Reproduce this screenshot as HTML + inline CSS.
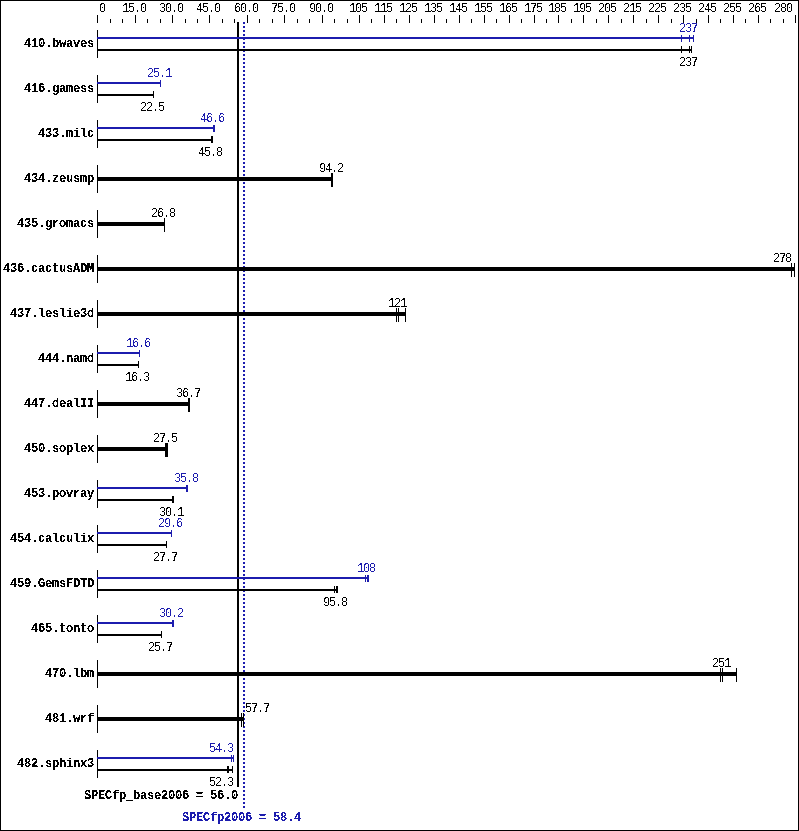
<!DOCTYPE html>
<html><head><meta charset="utf-8"><title>SPECfp2006</title><style>
html,body{margin:0;padding:0;background:#fff}
body{width:799px;height:831px;position:relative;overflow:hidden}
.r{position:absolute}
.t{position:absolute;font-family:"Liberation Mono",monospace;font-size:12px;line-height:20px;letter-spacing:-1.2px;white-space:pre;color:#000}
.B{position:absolute;font-family:"Liberation Mono",monospace;font-weight:bold;font-size:12px;line-height:20px;letter-spacing:-0.2px;white-space:pre;color:#000}
.b{color:#1c1cae}
.t{filter:url(#crisp)}
.B{filter:url(#crispb)}
</style></head>
<body>
<svg width="0" height="0" style="position:absolute"><filter id="crisp" x="-20%" y="-20%" width="140%" height="140%"><feComponentTransfer><feFuncA type="discrete" tableValues="0 1"/></feComponentTransfer></filter><filter id="crispb" x="-20%" y="-20%" width="140%" height="140%"><feComponentTransfer><feFuncA type="discrete" tableValues="0 0 1 1 1"/></feComponentTransfer></filter></svg>
<div style="position:absolute;left:0;top:0;width:799px;height:831px;box-sizing:border-box;border:1px solid #000"></div>
<div class="r" style="left:97px;top:15px;width:1px;height:8px;background:#000"></div>
<div class="r" style="left:110px;top:19px;width:1px;height:4px;background:#000"></div>
<div class="r" style="left:122px;top:19px;width:1px;height:4px;background:#000"></div>
<div class="r" style="left:135px;top:15px;width:1px;height:8px;background:#000"></div>
<div class="r" style="left:147px;top:19px;width:1px;height:4px;background:#000"></div>
<div class="r" style="left:160px;top:19px;width:1px;height:4px;background:#000"></div>
<div class="r" style="left:172px;top:15px;width:1px;height:8px;background:#000"></div>
<div class="r" style="left:185px;top:19px;width:1px;height:4px;background:#000"></div>
<div class="r" style="left:197px;top:19px;width:1px;height:4px;background:#000"></div>
<div class="r" style="left:209px;top:15px;width:1px;height:8px;background:#000"></div>
<div class="r" style="left:222px;top:19px;width:1px;height:4px;background:#000"></div>
<div class="r" style="left:234px;top:19px;width:1px;height:4px;background:#000"></div>
<div class="r" style="left:247px;top:15px;width:1px;height:8px;background:#000"></div>
<div class="r" style="left:259px;top:19px;width:1px;height:4px;background:#000"></div>
<div class="r" style="left:272px;top:19px;width:1px;height:4px;background:#000"></div>
<div class="r" style="left:284px;top:15px;width:1px;height:8px;background:#000"></div>
<div class="r" style="left:297px;top:19px;width:1px;height:4px;background:#000"></div>
<div class="r" style="left:309px;top:19px;width:1px;height:4px;background:#000"></div>
<div class="r" style="left:322px;top:15px;width:1px;height:8px;background:#000"></div>
<div class="r" style="left:334px;top:19px;width:1px;height:4px;background:#000"></div>
<div class="r" style="left:347px;top:19px;width:1px;height:4px;background:#000"></div>
<div class="r" style="left:359px;top:15px;width:1px;height:8px;background:#000"></div>
<div class="r" style="left:371px;top:19px;width:1px;height:4px;background:#000"></div>
<div class="r" style="left:384px;top:15px;width:1px;height:8px;background:#000"></div>
<div class="r" style="left:396px;top:19px;width:1px;height:4px;background:#000"></div>
<div class="r" style="left:409px;top:15px;width:1px;height:8px;background:#000"></div>
<div class="r" style="left:421px;top:19px;width:1px;height:4px;background:#000"></div>
<div class="r" style="left:434px;top:15px;width:1px;height:8px;background:#000"></div>
<div class="r" style="left:446px;top:19px;width:1px;height:4px;background:#000"></div>
<div class="r" style="left:459px;top:15px;width:1px;height:8px;background:#000"></div>
<div class="r" style="left:471px;top:19px;width:1px;height:4px;background:#000"></div>
<div class="r" style="left:484px;top:15px;width:1px;height:8px;background:#000"></div>
<div class="r" style="left:496px;top:19px;width:1px;height:4px;background:#000"></div>
<div class="r" style="left:509px;top:15px;width:1px;height:8px;background:#000"></div>
<div class="r" style="left:521px;top:19px;width:1px;height:4px;background:#000"></div>
<div class="r" style="left:534px;top:15px;width:1px;height:8px;background:#000"></div>
<div class="r" style="left:546px;top:19px;width:1px;height:4px;background:#000"></div>
<div class="r" style="left:558px;top:15px;width:1px;height:8px;background:#000"></div>
<div class="r" style="left:571px;top:19px;width:1px;height:4px;background:#000"></div>
<div class="r" style="left:583px;top:15px;width:1px;height:8px;background:#000"></div>
<div class="r" style="left:596px;top:19px;width:1px;height:4px;background:#000"></div>
<div class="r" style="left:608px;top:15px;width:1px;height:8px;background:#000"></div>
<div class="r" style="left:621px;top:19px;width:1px;height:4px;background:#000"></div>
<div class="r" style="left:633px;top:15px;width:1px;height:8px;background:#000"></div>
<div class="r" style="left:646px;top:19px;width:1px;height:4px;background:#000"></div>
<div class="r" style="left:658px;top:15px;width:1px;height:8px;background:#000"></div>
<div class="r" style="left:671px;top:19px;width:1px;height:4px;background:#000"></div>
<div class="r" style="left:683px;top:15px;width:1px;height:8px;background:#000"></div>
<div class="r" style="left:696px;top:19px;width:1px;height:4px;background:#000"></div>
<div class="r" style="left:708px;top:15px;width:1px;height:8px;background:#000"></div>
<div class="r" style="left:720px;top:19px;width:1px;height:4px;background:#000"></div>
<div class="r" style="left:733px;top:15px;width:1px;height:8px;background:#000"></div>
<div class="r" style="left:745px;top:19px;width:1px;height:4px;background:#000"></div>
<div class="r" style="left:758px;top:15px;width:1px;height:8px;background:#000"></div>
<div class="r" style="left:770px;top:19px;width:1px;height:4px;background:#000"></div>
<div class="r" style="left:783px;top:19px;width:1px;height:4px;background:#000"></div>
<div class="r" style="left:795px;top:15px;width:1px;height:8px;background:#000"></div>
<div class="t" style="left:99px;top:-1px">0</div>
<div class="t" style="left:122px;top:-1px">15.0</div>
<div class="t" style="left:159px;top:-1px">30.0</div>
<div class="t" style="left:196px;top:-1px">45.0</div>
<div class="t" style="left:234px;top:-1px">60.0</div>
<div class="t" style="left:271px;top:-1px">75.0</div>
<div class="t" style="left:309px;top:-1px">90.0</div>
<div class="t" style="left:349px;top:-1px">105</div>
<div class="t" style="left:374px;top:-1px">115</div>
<div class="t" style="left:399px;top:-1px">125</div>
<div class="t" style="left:424px;top:-1px">135</div>
<div class="t" style="left:449px;top:-1px">145</div>
<div class="t" style="left:474px;top:-1px">155</div>
<div class="t" style="left:499px;top:-1px">165</div>
<div class="t" style="left:524px;top:-1px">175</div>
<div class="t" style="left:548px;top:-1px">185</div>
<div class="t" style="left:573px;top:-1px">195</div>
<div class="t" style="left:598px;top:-1px">205</div>
<div class="t" style="left:623px;top:-1px">215</div>
<div class="t" style="left:648px;top:-1px">225</div>
<div class="t" style="left:673px;top:-1px">235</div>
<div class="t" style="left:698px;top:-1px">245</div>
<div class="t" style="left:723px;top:-1px">255</div>
<div class="t" style="left:748px;top:-1px">265</div>
<div class="t" style="left:774px;top:-1px">280</div>
<div class="r" style="left:237px;top:22px;width:2px;height:765px;background:#000"></div>
<div class="r" style="left:243px;top:22px;width:2px;height:786px;background:repeating-linear-gradient(to bottom,#1c1cae 0 2px,transparent 2px 4px)"></div>
<div class="B" style="left:24px;top:34px">410.bwaves</div>
<div class="r" style="left:97px;top:30px;width:1px;height:28px;background:#000"></div>
<div class="r" style="left:97px;top:37px;width:597px;height:2px;background:#1c1cae"></div>
<div class="r" style="left:681px;top:35px;width:1px;height:7px;background:#1c1cae"></div>
<div class="r" style="left:689px;top:35px;width:1px;height:7px;background:#1c1cae"></div>
<div class="r" style="left:693px;top:35px;width:1px;height:7px;background:#1c1cae"></div>
<div class="t b" style="left:679px;top:19px">237</div>
<div class="r" style="left:97px;top:49px;width:595px;height:2px;background:#000"></div>
<div class="r" style="left:681px;top:46px;width:1px;height:7px;background:#000"></div>
<div class="r" style="left:689px;top:46px;width:1px;height:7px;background:#000"></div>
<div class="r" style="left:691px;top:46px;width:1px;height:7px;background:#000"></div>
<div class="t" style="left:679px;top:53px">237</div>
<div class="B" style="left:24px;top:79px">416.gamess</div>
<div class="r" style="left:97px;top:75px;width:1px;height:28px;background:#000"></div>
<div class="r" style="left:97px;top:82px;width:64px;height:2px;background:#1c1cae"></div>
<div class="r" style="left:160px;top:80px;width:1px;height:7px;background:#1c1cae"></div>
<div class="t b" style="left:147px;top:64px">25.1</div>
<div class="r" style="left:97px;top:94px;width:57px;height:2px;background:#000"></div>
<div class="r" style="left:153px;top:91px;width:1px;height:7px;background:#000"></div>
<div class="t" style="left:140px;top:98px">22.5</div>
<div class="B" style="left:38px;top:124px">433.milc</div>
<div class="r" style="left:97px;top:120px;width:1px;height:28px;background:#000"></div>
<div class="r" style="left:97px;top:127px;width:118px;height:2px;background:#1c1cae"></div>
<div class="r" style="left:213px;top:125px;width:1px;height:7px;background:#1c1cae"></div>
<div class="r" style="left:214px;top:125px;width:1px;height:7px;background:#1c1cae"></div>
<div class="t b" style="left:200px;top:109px">46.6</div>
<div class="r" style="left:97px;top:139px;width:116px;height:2px;background:#000"></div>
<div class="r" style="left:211px;top:136px;width:1px;height:7px;background:#000"></div>
<div class="r" style="left:212px;top:136px;width:1px;height:7px;background:#000"></div>
<div class="t" style="left:198px;top:143px">45.8</div>
<div class="B" style="left:24px;top:169px">434.zeusmp</div>
<div class="r" style="left:97px;top:165px;width:1px;height:28px;background:#000"></div>
<div class="r" style="left:97px;top:177px;width:236px;height:4px;background:#000"></div>
<div class="r" style="left:331px;top:173px;width:1px;height:14px;background:#000"></div>
<div class="r" style="left:332px;top:173px;width:1px;height:14px;background:#000"></div>
<div class="t" style="left:319px;top:159px">94.2</div>
<div class="B" style="left:17px;top:214px">435.gromacs</div>
<div class="r" style="left:97px;top:210px;width:1px;height:28px;background:#000"></div>
<div class="r" style="left:97px;top:222px;width:68px;height:4px;background:#000"></div>
<div class="r" style="left:164px;top:218px;width:1px;height:14px;background:#000"></div>
<div class="t" style="left:151px;top:204px">26.8</div>
<div class="B" style="left:3px;top:259px">436.cactusADM</div>
<div class="r" style="left:97px;top:255px;width:1px;height:28px;background:#000"></div>
<div class="r" style="left:97px;top:267px;width:698px;height:4px;background:#000"></div>
<div class="r" style="left:791px;top:263px;width:1px;height:14px;background:#000"></div>
<div class="r" style="left:794px;top:263px;width:1px;height:14px;background:#000"></div>
<div class="t" style="left:773px;top:249px">278</div>
<div class="B" style="left:10px;top:304px">437.leslie3d</div>
<div class="r" style="left:97px;top:300px;width:1px;height:28px;background:#000"></div>
<div class="r" style="left:97px;top:312px;width:309px;height:4px;background:#000"></div>
<div class="r" style="left:396px;top:308px;width:1px;height:14px;background:#000"></div>
<div class="r" style="left:398px;top:308px;width:1px;height:14px;background:#000"></div>
<div class="r" style="left:405px;top:308px;width:1px;height:14px;background:#000"></div>
<div class="t" style="left:388px;top:294px">121</div>
<div class="B" style="left:38px;top:349px">444.namd</div>
<div class="r" style="left:97px;top:345px;width:1px;height:28px;background:#000"></div>
<div class="r" style="left:97px;top:352px;width:43px;height:2px;background:#1c1cae"></div>
<div class="r" style="left:139px;top:350px;width:1px;height:7px;background:#1c1cae"></div>
<div class="t b" style="left:126px;top:334px">16.6</div>
<div class="r" style="left:97px;top:364px;width:42px;height:2px;background:#000"></div>
<div class="r" style="left:138px;top:361px;width:1px;height:7px;background:#000"></div>
<div class="t" style="left:125px;top:368px">16.3</div>
<div class="B" style="left:24px;top:394px">447.dealII</div>
<div class="r" style="left:97px;top:390px;width:1px;height:28px;background:#000"></div>
<div class="r" style="left:97px;top:402px;width:93px;height:4px;background:#000"></div>
<div class="r" style="left:188px;top:398px;width:1px;height:14px;background:#000"></div>
<div class="r" style="left:189px;top:398px;width:1px;height:14px;background:#000"></div>
<div class="t" style="left:176px;top:384px">36.7</div>
<div class="B" style="left:24px;top:439px">450.soplex</div>
<div class="r" style="left:97px;top:435px;width:1px;height:28px;background:#000"></div>
<div class="r" style="left:97px;top:447px;width:71px;height:4px;background:#000"></div>
<div class="r" style="left:165px;top:443px;width:1px;height:14px;background:#000"></div>
<div class="r" style="left:166px;top:443px;width:1px;height:14px;background:#000"></div>
<div class="r" style="left:167px;top:443px;width:1px;height:14px;background:#000"></div>
<div class="t" style="left:153px;top:429px">27.5</div>
<div class="B" style="left:24px;top:484px">453.povray</div>
<div class="r" style="left:97px;top:480px;width:1px;height:28px;background:#000"></div>
<div class="r" style="left:97px;top:487px;width:91px;height:2px;background:#1c1cae"></div>
<div class="r" style="left:186px;top:485px;width:1px;height:7px;background:#1c1cae"></div>
<div class="r" style="left:187px;top:485px;width:1px;height:7px;background:#1c1cae"></div>
<div class="t b" style="left:174px;top:469px">35.8</div>
<div class="r" style="left:97px;top:499px;width:77px;height:2px;background:#000"></div>
<div class="r" style="left:172px;top:496px;width:1px;height:7px;background:#000"></div>
<div class="r" style="left:173px;top:496px;width:1px;height:7px;background:#000"></div>
<div class="t" style="left:159px;top:503px">30.1</div>
<div class="B" style="left:10px;top:529px">454.calculix</div>
<div class="r" style="left:97px;top:525px;width:1px;height:28px;background:#000"></div>
<div class="r" style="left:97px;top:532px;width:75px;height:2px;background:#1c1cae"></div>
<div class="r" style="left:171px;top:530px;width:1px;height:7px;background:#1c1cae"></div>
<div class="t b" style="left:158px;top:514px">29.6</div>
<div class="r" style="left:97px;top:544px;width:70px;height:2px;background:#000"></div>
<div class="r" style="left:166px;top:541px;width:1px;height:7px;background:#000"></div>
<div class="t" style="left:153px;top:548px">27.7</div>
<div class="B" style="left:10px;top:574px">459.GemsFDTD</div>
<div class="r" style="left:97px;top:570px;width:1px;height:28px;background:#000"></div>
<div class="r" style="left:97px;top:577px;width:272px;height:2px;background:#1c1cae"></div>
<div class="r" style="left:365px;top:575px;width:1px;height:7px;background:#1c1cae"></div>
<div class="r" style="left:367px;top:575px;width:1px;height:7px;background:#1c1cae"></div>
<div class="r" style="left:368px;top:575px;width:1px;height:7px;background:#1c1cae"></div>
<div class="t b" style="left:357px;top:559px">108</div>
<div class="r" style="left:97px;top:589px;width:241px;height:2px;background:#000"></div>
<div class="r" style="left:334px;top:586px;width:1px;height:7px;background:#000"></div>
<div class="r" style="left:336px;top:586px;width:1px;height:7px;background:#000"></div>
<div class="r" style="left:337px;top:586px;width:1px;height:7px;background:#000"></div>
<div class="t" style="left:323px;top:593px">95.8</div>
<div class="B" style="left:31px;top:619px">465.tonto</div>
<div class="r" style="left:97px;top:615px;width:1px;height:28px;background:#000"></div>
<div class="r" style="left:97px;top:622px;width:77px;height:2px;background:#1c1cae"></div>
<div class="r" style="left:172px;top:620px;width:1px;height:7px;background:#1c1cae"></div>
<div class="r" style="left:173px;top:620px;width:1px;height:7px;background:#1c1cae"></div>
<div class="t b" style="left:159px;top:604px">30.2</div>
<div class="r" style="left:97px;top:634px;width:65px;height:2px;background:#000"></div>
<div class="r" style="left:161px;top:631px;width:1px;height:7px;background:#000"></div>
<div class="t" style="left:148px;top:638px">25.7</div>
<div class="B" style="left:45px;top:664px">470.lbm</div>
<div class="r" style="left:97px;top:660px;width:1px;height:28px;background:#000"></div>
<div class="r" style="left:97px;top:672px;width:640px;height:4px;background:#000"></div>
<div class="r" style="left:720px;top:668px;width:1px;height:14px;background:#000"></div>
<div class="r" style="left:722px;top:668px;width:1px;height:14px;background:#000"></div>
<div class="r" style="left:736px;top:668px;width:1px;height:14px;background:#000"></div>
<div class="t" style="left:712px;top:654px">251</div>
<div class="B" style="left:45px;top:709px">481.wrf</div>
<div class="r" style="left:97px;top:705px;width:1px;height:28px;background:#000"></div>
<div class="r" style="left:97px;top:717px;width:147px;height:4px;background:#000"></div>
<div class="r" style="left:241px;top:713px;width:1px;height:14px;background:#000"></div>
<div class="r" style="left:243px;top:713px;width:1px;height:14px;background:#000"></div>
<div class="t" style="left:245px;top:699px">57.7</div>
<div class="B" style="left:17px;top:754px">482.sphinx3</div>
<div class="r" style="left:97px;top:750px;width:1px;height:28px;background:#000"></div>
<div class="r" style="left:97px;top:757px;width:137px;height:2px;background:#1c1cae"></div>
<div class="r" style="left:231px;top:755px;width:1px;height:7px;background:#1c1cae"></div>
<div class="r" style="left:233px;top:755px;width:1px;height:7px;background:#1c1cae"></div>
<div class="t b" style="left:209px;top:739px">54.3</div>
<div class="r" style="left:97px;top:769px;width:136px;height:2px;background:#000"></div>
<div class="r" style="left:227px;top:766px;width:1px;height:7px;background:#000"></div>
<div class="r" style="left:228px;top:766px;width:1px;height:7px;background:#000"></div>
<div class="r" style="left:232px;top:766px;width:1px;height:7px;background:#000"></div>
<div class="t" style="left:209px;top:773px">52.3</div>
<div class="B" style="left:84px;top:786px">SPECfp_base2006 = 56.0</div>
<div class="B b" style="left:182px;top:808px">SPECfp2006 = 58.4</div>
</body></html>
